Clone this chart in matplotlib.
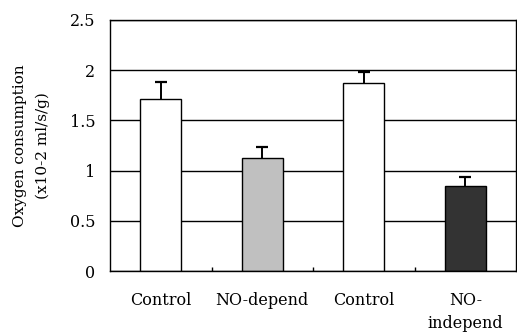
import matplotlib
matplotlib.use("Agg")
import matplotlib.pyplot as plt
import numpy as np

categories = ["Control", "NO-depend", "Control", "NO-\nindepend"]
values = [1.71, 1.13, 1.87, 0.85]
errors = [0.175, 0.105, 0.115, 0.09]
colors = ["#ffffff", "#c0c0c0", "#ffffff", "#333333"]
yticks = [0, 0.5, 1, 1.5, 2, 2.5]
ytick_labels = ["0", "0.5", "1", "1.5", "2", "2.5"]

plt.rcParams['font.family'] = ['DejaVu Serif']

fig = plt.figure(figsize=(5.17, 3.36), dpi=100)
ax = fig.add_axes([110/517, 65/336, 406/517, 251/336])

x = np.arange(len(categories))
ax.set_axisbelow(True)
ax.yaxis.grid(True, color="black", linewidth=1.0)
ax.bar(x, values, width=0.4, color=colors, edgecolor="black", linewidth=1.0, zorder=2)
tops = np.array(values) + np.array(errors)
ax.vlines(x, values, tops, color="black", linewidth=1.4, zorder=3)
ax.plot(x, tops, linestyle="none", marker="_", markersize=9, markeredgewidth=1.6,
        color="black", zorder=3)

ax.set_xlim(-0.5, 3.5)
ax.set_ylim(0, 2.5)
ax.set_yticks(yticks)
ax.set_yticklabels(ytick_labels, fontsize=11.5)
ax.tick_params(axis="y", length=0, pad=10.5)
ax.set_xticks(x)
ax.set_xticklabels(categories, fontsize=11.5, linespacing=1.45)
ax.tick_params(axis="x", which="major", length=0, pad=15)
ax.set_xticks([0.5, 1.5, 2.5], minor=True)
ax.tick_params(axis="x", which="minor", direction="in", length=3, width=1)
for s in ax.spines.values():
    s.set_linewidth(1.0)
    s.set_color("black")

ax.set_ylabel("Oxygen consumption\n(x10-2 ml/s/g)", fontsize=11, linespacing=1.75, labelpad=14)

fig.savefig("out.png", dpi=100)
